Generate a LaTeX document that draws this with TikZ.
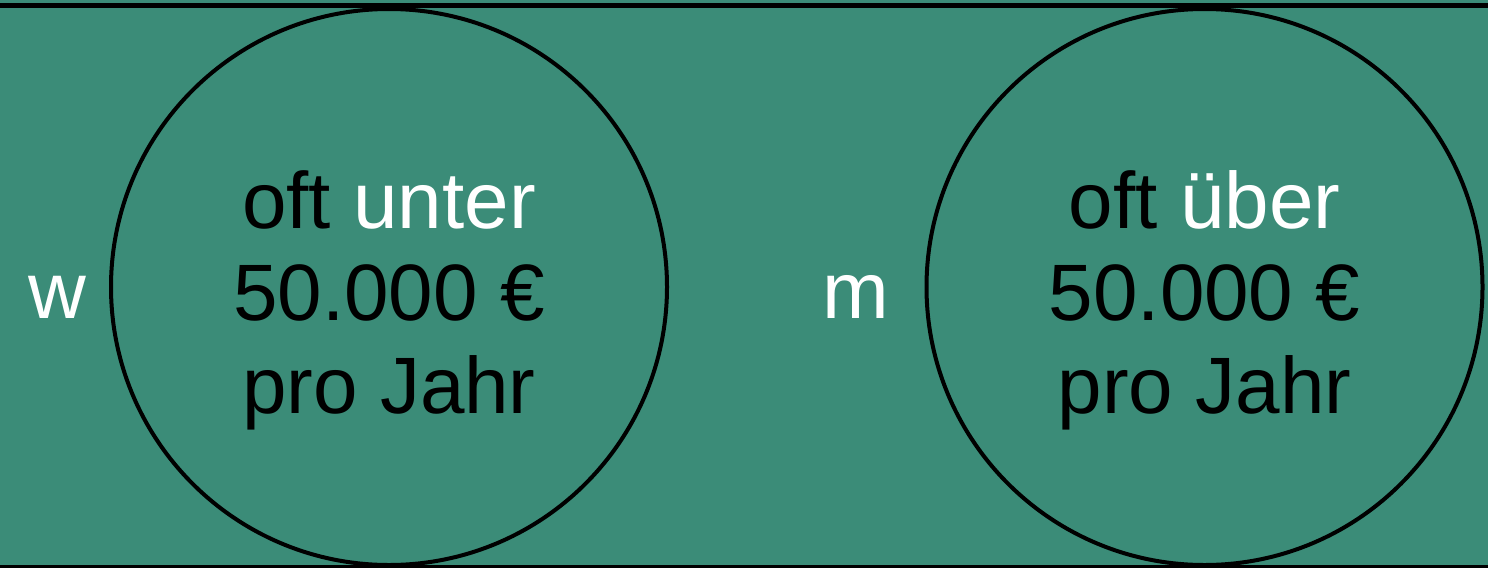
\documentclass[tikz,border=0pt]{standalone}
\usepackage{fontspec}
\setmainfont{Liberation Sans}
\definecolor{bggreen}{RGB}{59,140,120}
\begin{document}
\begin{tikzpicture}[x=1pt,y=-1pt,
  ring/.style={circle,draw=black,line width=4pt,minimum size=556pt,inner sep=0pt},
  rule/.style={draw=black},
  txt/.style={anchor=base,inner sep=0pt,font=\fontsize{80}{96}\selectfont},
  side/.style={anchor=base,inner sep=0pt,text=white,font=\fontsize{80}{96}\selectfont}]
\fill[bggreen] (0,0) rectangle (1488,568);
\useasboundingbox (0,0) rectangle (1488,568);
\draw[rule,line width=5pt] (0,5.5) -- (1488,5.5);
\draw[rule,line width=3pt] (0,566.5) -- (1488,566.5);
\node[ring] (c1) at (389,287) {};
\node[ring] (c2) at (1204.5,287) {};
\node[txt] (l1a) at (389,228) {oft \textcolor{white}{unter}};
\node[txt] (l1b) at (389,320) {50.000 €};
\node[txt] (l1c) at (389,413) {pro Jahr};
\node[txt] (l2a) at (1204.5,228) {oft \textcolor{white}{über}};
\node[txt] (l2b) at (1204.5,320) {50.000 €};
\node[txt] (l2c) at (1204.5,413) {pro Jahr};
\node[side] (w) at (57,318) {w};
\node[side] (m) at (856,318) {m};
\end{tikzpicture}
\end{document}
